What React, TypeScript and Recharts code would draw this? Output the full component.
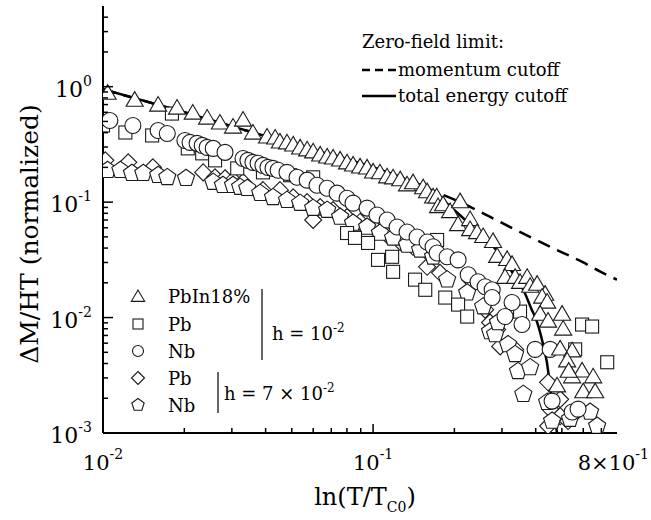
import { ComposedChart, Scatter, Line, XAxis, YAxis, Customized } from 'recharts';

// tick values (log axes)
const xTicks = [0.01, 0.02, 0.03, 0.04, 0.05, 0.06, 0.07, 0.08, 0.09, 0.1, 0.2, 0.3, 0.4, 0.5, 0.6, 0.7, 0.8];
const yTicks = [
  0.001, 0.002, 0.003, 0.004, 0.005, 0.006, 0.007, 0.008, 0.009,
  0.01, 0.02, 0.03, 0.04, 0.05, 0.06, 0.07, 0.08, 0.09,
  0.1, 0.2, 0.3, 0.4, 0.5, 0.6, 0.7, 0.8, 0.9,
  1, 2, 3, 4,
];
const xLabels: Record<string, [string, string]> = { '0.01': ['10', '-2'], '0.1': ['10', '-1'], '0.8': ['8×10', '-1'] };
const yLabels: Record<string, string> = { '0.001': '-3', '0.01': '-2', '0.1': '-1', '1': '0' };

// h = 10^-2
const pbIn18 = [
  [0.0104, 0.87], [0.0131, 0.757], [0.016, 0.686], [0.0188, 0.646], [0.0215, 0.585], [0.0243, 0.53],
  [0.0271, 0.48], [0.0303, 0.443], [0.033, 0.509], [0.0359, 0.393], [0.0405, 0.363], [0.0434, 0.356],
  [0.0452, 0.329], [0.048, 0.323], [0.0506, 0.31], [0.0537, 0.292], [0.057, 0.281], [0.06, 0.27],
  [0.0637, 0.254], [0.0676, 0.244], [0.0711, 0.239], [0.0755, 0.23], [0.0801, 0.217], [0.0843, 0.208],
  [0.0895, 0.2], [0.095, 0.196], [0.1, 0.181], [0.106, 0.178], [0.1127, 0.164], [0.1186, 0.161],
  [0.126, 0.155], [0.1336, 0.14], [0.1406, 0.146], [0.1532, 0.132], [0.1585, 0.122], [0.1668, 0.11],
  [0.172, 0.11], [0.174, 0.0906], [0.1817, 0.0942], [0.1928, 0.082], [0.21, 0.1], [0.2064, 0.0633],
  [0.2287, 0.07], [0.2287, 0.0573], [0.2427, 0.054], [0.2556, 0.0499], [0.278, 0.0452], [0.288, 0.0336],
  [0.3135, 0.0316], [0.327, 0.0286], [0.308, 0.0221], [0.3357, 0.0221], [0.35, 0.02], [0.372, 0.0221],
  [0.3815, 0.0185], [0.405, 0.0193], [0.4335, 0.0158], [0.4226, 0.0149], [0.441, 0.0135], [0.4155, 0.0106],
  [0.4446, 0.00924], [0.501, 0.0106], [0.5055, 0.00788], [0.4928, 0.0053], [0.5458, 0.0051], [0.523, 0.00418],
  [0.5458, 0.00304], [0.594, 0.00342], [0.653, 0.00304], [0.6, 0.00226], [0.664, 0.00226], [0.53, 0.0034],
  [0.48, 0.00254],
];
const pbLow = [
  [0.01, 0.461], [0.0121, 0.401], [0.0152, 0.378], [0.018, 0.585], [0.0206, 0.292], [0.0233, 0.2645],
  [0.026, 0.23], [0.0314, 0.196], [0.0391, 0.181], [0.0493, 0.171], [0.06, 0.164], [0.0801, 0.054],
  [0.0857, 0.049], [0.0958, 0.0443], [0.1043, 0.0316], [0.1176, 0.0336], [0.1186, 0.0249], [0.143, 0.0213],
  [0.156, 0.0174], [0.1726, 0.047], [0.185, 0.0149], [0.2064, 0.01295], [0.223, 0.0102], [0.35, 0.01126],
  [0.56, 0.0053], [0.594, 0.0087], [0.647, 0.00836], [0.736, 0.0041],
];
const nbLow = [
  [0.0106, 0.509], [0.0129, 0.461], [0.016, 0.4175], [0.0173, 0.393], [0.0201, 0.342], [0.021, 0.329],
  [0.0223, 0.323], [0.0233, 0.31], [0.0243, 0.298], [0.0256, 0.292], [0.0283, 0.27], [0.033, 0.239],
  [0.0344, 0.23], [0.0359, 0.221], [0.0375, 0.217], [0.0391, 0.208], [0.0408, 0.2], [0.0426, 0.196],
  [0.0445, 0.189], [0.048, 0.181], [0.0523, 0.164], [0.057, 0.155], [0.062, 0.14], [0.0676, 0.132],
  [0.0736, 0.1196], [0.0801, 0.108], [0.0843, 0.098], [0.095, 0.0888], [0.1034, 0.0773], [0.1127, 0.07],
  [0.1227, 0.0609], [0.1336, 0.0551], [0.1455, 0.0499], [0.1585, 0.0452], [0.1668, 0.041], [0.1726, 0.0363],
  [0.188, 0.0336], [0.2064, 0.0316], [0.225, 0.0235], [0.2448, 0.0204], [0.26, 0.0185], [0.276, 0.0174],
  [0.276, 0.0149], [0.327, 0.0135], [0.308, 0.0102], [0.356, 0.0087], [0.398, 0.0053], [0.4525, 0.0053],
  [0.46, 0.00189], [0.5458, 0.00152], [0.574, 0.00161],
];
// h = 7 x 10^-2
const pbHigh = [
  [0.0102, 0.23], [0.0124, 0.221], [0.0153, 0.2], [0.0235, 0.181], [0.026, 0.164], [0.0283, 0.161],
  [0.0303, 0.155], [0.033, 0.149], [0.0391, 0.127], [0.0452, 0.127], [0.0506, 0.11], [0.057, 0.1],
  [0.06, 0.07], [0.0637, 0.0906], [0.0711, 0.0853], [0.0801, 0.0743], [0.0895, 0.0673], [0.1, 0.0609],
  [0.1127, 0.052], [0.126, 0.0452], [0.1406, 0.041], [0.1585, 0.037], [0.1585, 0.0275], [0.177, 0.0244],
  [0.2287, 0.0213], [0.26, 0.0117], [0.271, 0.00906], [0.288, 0.00788], [0.2955, 0.00562], [0.3357, 0.0053],
  [0.4446, 0.00275], [0.4928, 0.00196], [0.4525, 0.00161], [0.4446, 0.00115], [0.4928, 0.0014],
  [0.527, 0.00127], [0.5458, 0.0014],
];
const nbHigh = [
  [0.0104, 0.189], [0.0116, 0.189], [0.0128, 0.178], [0.0141, 0.178], [0.016, 0.171], [0.0173, 0.164],
  [0.0203, 0.161], [0.0256, 0.149], [0.0278, 0.14], [0.0303, 0.14], [0.0322, 0.135], [0.0342, 0.132],
  [0.0382, 0.1196], [0.0426, 0.11], [0.048, 0.104], [0.0537, 0.098], [0.06, 0.0888], [0.0676, 0.0853],
  [0.0755, 0.0743], [0.0843, 0.0659], [0.095, 0.0609], [0.106, 0.054], [0.1186, 0.049], [0.1336, 0.0426],
  [0.1493, 0.0386], [0.1668, 0.0336], [0.188, 0.0213], [0.223, 0.0164], [0.2556, 0.01244], [0.271, 0.00757],
  [0.283, 0.00714], [0.29, 0.00906], [0.316, 0.00585], [0.3357, 0.0048], [0.344, 0.00342], [0.3815, 0.0037],
  [0.36, 0.00217], [0.441, 0.00185], [0.46, 0.00127], [0.536, 0.00132], [0.636, 0.00152], [0.6755, 0.00115],
];

// zero-field limit curves
const totalEnergy = [
  [0.01, 0.95], [0.02, 0.6], [0.05, 0.32], [0.08, 0.235], [0.1, 0.2], [0.13, 0.16], [0.163, 0.127],
  [0.2, 0.085], [0.234, 0.061], [0.27, 0.045], [0.303, 0.032], [0.33, 0.024], [0.36, 0.0174],
  [0.385, 0.012], [0.405, 0.0091], [0.425, 0.006], [0.44, 0.0041], [0.46, 0.00185], [0.48, 0.001],
];
const momentum = [
  [0.01, 0.95], [0.02, 0.6], [0.05, 0.32], [0.08, 0.235], [0.1, 0.2], [0.13, 0.16], [0.16, 0.13],
  [0.2, 0.105], [0.243, 0.085], [0.3, 0.066], [0.453, 0.041], [0.6, 0.03], [0.694, 0.025], [0.8, 0.0213],
];

const toRows = (pts: number[][]) => pts.map(([x, y]) => ({ x, y }));

const SERIF = "'DejaVu Serif', serif";
const INK = '#1a1a1a';

const isMajor = (v: number) => Math.abs(Math.log10(v) - Math.round(Math.log10(v))) < 1e-6;

function Tri({ cx, cy, s = 9 }: any) {
  return <polygon points={`${cx},${cy - s} ${cx - s * 0.95},${cy + s * 0.62} ${cx + s * 0.95},${cy + s * 0.62}`} fill="#fff" stroke={INK} strokeWidth={1.1} />;
}
function Sq({ cx, cy, s = 6.5 }: any) {
  return <rect x={cx - s} y={cy - s} width={2 * s} height={2 * s} fill="#fff" stroke={INK} strokeWidth={1.1} />;
}
function Circ({ cx, cy, s = 8 }: any) {
  return <circle cx={cx} cy={cy} r={s} fill="#fff" stroke={INK} strokeWidth={1.1} />;
}
function Dia({ cx, cy, s = 8.5 }: any) {
  return <polygon points={`${cx},${cy - s} ${cx + s},${cy} ${cx},${cy + s} ${cx - s},${cy}`} fill="#fff" stroke={INK} strokeWidth={1.1} />;
}
function Pent({ cx, cy, s = 9 }: any) {
  const pts = [0, 1, 2, 3, 4].map((k) => {
    const a = (-90 + 72 * k) * Math.PI / 180;
    return `${cx + s * Math.cos(a)},${cy + s * Math.sin(a)}`;
  }).join(' ');
  return <polygon points={pts} fill="#fff" stroke={INK} strokeWidth={1.1} />;
}

function BottomTick({ x, y, payload }: any) {
  const v = payload.value;
  const len = isMajor(v) ? 9 : 5;
  const lab = xLabels[String(v)];
  const edge = v === 0.8;
  return (
    <g>
      {!edge && <line x1={x} x2={x} y1={y} y2={y - len} stroke="#000" strokeWidth={1.5} />}
      {lab && (
        <text x={edge ? x + 32 : x} y={y + 37} textAnchor={edge ? 'end' : 'middle'} style={{ fontFamily: SERIF, fontSize: 21 }} fill="#000">
          {lab[0]}
          <tspan dy={-11} style={{ fontSize: 14 }}>{lab[1]}</tspan>
        </text>
      )}
    </g>
  );
}
function TopTick({ x, y, payload }: any) {
  const v = payload.value;
  if (v === 0.8) return null;
  const len = isMajor(v) ? 9 : 5;
  return <line x1={x} x2={x} y1={y} y2={y + len} stroke="#000" strokeWidth={1.5} />;
}
function LeftTick({ x, y, payload }: any) {
  const v = payload.value;
  const len = isMajor(v) ? 10 : 5;
  const lab = yLabels[String(v)];
  return (
    <g>
      <line x1={x} x2={x + len} y1={y} y2={y} stroke="#000" strokeWidth={1.5} />
      {lab && (
        <text x={x - 11} y={y + 10} textAnchor="end" style={{ fontFamily: SERIF, fontSize: 22 }} fill="#000">
          10
          <tspan dy={-11} style={{ fontSize: 14 }}>{lab}</tspan>
        </text>
      )}
    </g>
  );
}
function RightTick({ x, y, payload }: any) {
  const v = payload.value;
  const len = isMajor(v) ? 10 : 5;
  return <line x1={x} x2={x - len} y1={y} y2={y} stroke="#000" strokeWidth={1.5} />;
}

function Annotations() {
  const t = { style: { fontFamily: SERIF, fontSize: 18 }, fill: '#000' };
  const sup = { fontSize: 12 };
  return (
    <g>
      {/* axis titles */}
      <text x={365} y={505} textAnchor="middle" style={{ fontFamily: SERIF, fontSize: 24 }} fill="#000">
        ln(T/T<tspan dy={7} style={{ fontSize: 14 }}>C0</tspan><tspan dy={-7}>)</tspan>
      </text>
      <text transform="translate(38,234) rotate(-90)" textAnchor="middle" style={{ fontFamily: SERIF, fontSize: 25 }} fill="#000">
        ΔM/HT (normalized)
      </text>

      {/* zero-field limit legend */}
      <text x={362} y={48} {...t}>Zero-field limit:</text>
      <line x1={362} x2={396} y1={70} y2={70} stroke="#000" strokeWidth={2.5} strokeDasharray="8 5" />
      <text x={398} y={76} {...t}>momentum cutoff</text>
      <line x1={362} x2={396} y1={96} y2={96} stroke="#000" strokeWidth={2.5} />
      <text x={398} y={102} {...t}>total energy cutoff</text>

      {/* sample legend */}
      <Tri cx={138} cy={297} s={7} />
      <text x={168} y={303} {...t}>PbIn18%</text>
      <Sq cx={138} cy={324} s={5} />
      <text x={168} y={331} {...t}>Pb</text>
      <Circ cx={138} cy={351} s={5.5} />
      <text x={168} y={358} {...t}>Nb</text>
      <Dia cx={138} cy={378} s={6.5} />
      <text x={168} y={385} {...t}>Pb</text>
      <Pent cx={138} cy={405} s={6.5} />
      <text x={168} y={412} {...t}>Nb</text>

      <line x1={262} x2={262} y1={289} y2={360} stroke="#000" strokeWidth={1.2} />
      <text x={272} y={340} {...t}>h = 10<tspan dy={-8} style={sup}>-2</tspan></text>
      <line x1={218} x2={218} y1={372} y2={413} stroke="#000" strokeWidth={1.2} />
      <text x={224} y={400} {...t}>h = 7 × 10<tspan dy={-8} style={sup}>-2</tspan></text>
    </g>
  );
}

export default function App() {
  return (
    <div style={{ position: 'absolute', left: 0, top: 0, width: 651, height: 520, background: '#fff', fontFamily: SERIF }}>
      <ComposedChart width={651} height={520} margin={{ top: 6, right: 34, bottom: 0, left: 0 }} style={{ fontFamily: SERIF }}>
        <XAxis
          xAxisId={0}
          type="number"
          dataKey="x"
          scale="log"
          domain={[0.01, 0.8]}
          allowDataOverflow
          ticks={xTicks}
          interval={0}
          height={87}
          tickSize={0}
          tickMargin={0}
          tickLine={false}
          axisLine={{ stroke: '#000', strokeWidth: 2 }}
          tick={<BottomTick />}
        />
        <XAxis
          xAxisId="top"
          orientation="top"
          type="number"
          dataKey="x"
          scale="log"
          domain={[0.01, 0.8]}
          allowDataOverflow
          ticks={xTicks}
          interval={0}
          height={0}
          tickSize={0}
          tickMargin={0}
          tickLine={false}
          axisLine={{ stroke: '#000', strokeWidth: 2 }}
          tick={<TopTick />}
        />
        <YAxis
          yAxisId={0}
          type="number"
          dataKey="y"
          scale="log"
          domain={[0.001, 5]}
          allowDataOverflow
          ticks={yTicks}
          interval={0}
          width={103}
          tickSize={0}
          tickMargin={0}
          tickLine={false}
          axisLine={{ stroke: '#000', strokeWidth: 2 }}
          tick={<LeftTick />}
        />
        <YAxis
          yAxisId="right"
          orientation="right"
          type="number"
          dataKey="y"
          scale="log"
          domain={[0.001, 5]}
          allowDataOverflow
          ticks={yTicks}
          interval={0}
          width={0}
          tickSize={0}
          tickMargin={0}
          tickLine={false}
          axisLine={{ stroke: '#000', strokeWidth: 2 }}
          tick={<RightTick />}
        />
        <Scatter data={toRows(pbHigh)} isAnimationActive={false} shape={(p: any) => <Dia cx={p.cx} cy={p.cy} />} />
        <Scatter data={toRows(nbHigh)} isAnimationActive={false} shape={(p: any) => <Pent cx={p.cx} cy={p.cy} />} />
        <Scatter data={toRows(pbLow)} isAnimationActive={false} shape={(p: any) => <Sq cx={p.cx} cy={p.cy} />} />
        <Scatter data={toRows(nbLow)} isAnimationActive={false} shape={(p: any) => <Circ cx={p.cx} cy={p.cy} />} />
        <Scatter data={toRows(pbIn18)} isAnimationActive={false} shape={(p: any) => <Tri cx={p.cx} cy={p.cy} />} />
        <Line data={toRows(momentum)} dataKey="y" type="monotone" dot={false} stroke="#000" strokeWidth={2.5} strokeDasharray="13 8" isAnimationActive={false} />
        <Line data={toRows(totalEnergy)} dataKey="y" type="monotone" dot={false} stroke="#000" strokeWidth={2.5} isAnimationActive={false} />
        <Customized component={Annotations} />
      </ComposedChart>
    </div>
  );
}
